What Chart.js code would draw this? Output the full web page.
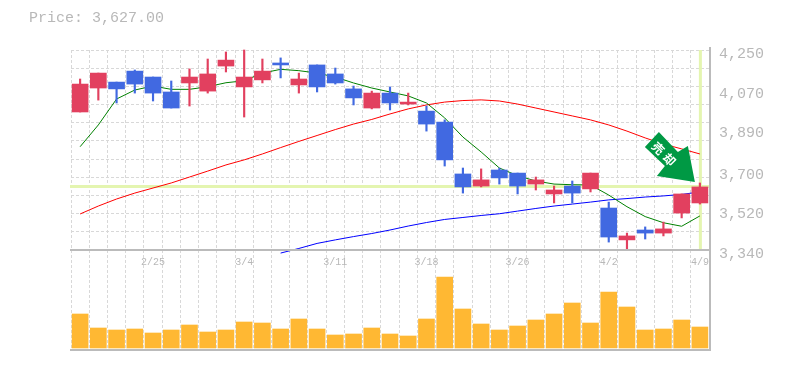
<!DOCTYPE html>
<html>
<head>
<meta charset="utf-8">
<style>
  body { margin: 0; background: #fff; }
  #wrap { position: relative; width: 785px; height: 370px; overflow: hidden; }
  canvas { position: absolute; left: 0; }
  #priceChart { top: 0; z-index: 2; }
  #volumeChart { top: 250px; z-index: 1; }
  #priceLabel { position: absolute; left: 29px; top: 10px; z-index: 3; font: 15px "Liberation Mono", monospace; color: #b8b8b8; white-space: pre; }
</style>
<script src="https://cdn.jsdelivr.net/npm/chart.js@4"></script>
</head>
<body>
<div id="wrap">
  <div id="priceLabel">Price: 3,627.00</div>
  <canvas id="volumeChart" width="785" height="120"></canvas>
  <canvas id="priceChart" width="785" height="280"></canvas>
</div>
<script>
const dates = ['2/19','2/20','2/21','2/22','2/25','2/26','2/27','2/28','3/1','3/4','3/5','3/6','3/7','3/8','3/11','3/12','3/13','3/14','3/15','3/18','3/19','3/20','3/22','3/25','3/26','3/27','3/28','3/29','4/1','4/2','4/3','4/4','4/5','4/8','4/9'];

// prices
const opens  = [3968,4077,4104,4154,4127,4059,4100,4063,4177,4082,4114,4191,4091,4182,4141,4073,3986,4054,4004,3972,3922,3686,3631,3704,3690,3640,3595,3631,3618,3531,3386,3431,3417,3508,3554];
const closes = [4095,4145,4073,4095,4054,3986,4127,4141,4204,4127,4154,4182,4118,4082,4100,4032,4054,4009,4013,3913,3750,3627,3659,3668,3631,3659,3613,3599,3690,3399,3404,3417,3436,3595,3627];
const highs  = [4118,4145,4104,4159,4127,4109,4164,4209,4241,4250,4209,4214,4145,4182,4168,4086,4063,4082,4054,3995,3932,3713,3709,3713,3690,3672,3631,3654,3690,3558,3417,3445,3467,3595,3645];
const lows   = [3968,4022,4009,4054,4018,3986,3995,4054,4150,3945,4100,4123,4054,4059,4095,4000,3982,3977,4000,3881,3722,3599,3627,3640,3595,3613,3554,3554,3604,3376,3340,3390,3404,3486,3549];

const maShort = [3810,3909,4027,4068,4086,4071,4071,4083,4101,4110,4145,4162,4156,4145,4127,4100,4077,4059,4041,4009,3941,3854,3786,3713,3678,3654,3640,3637,3636,3590,3537,3492,3464,3448,3495];
const maMid   = [3504,3540,3572,3599,3622,3645,3672,3699,3727,3750,3777,3806,3834,3861,3888,3913,3934,3959,3982,4000,4013,4020,4023,4018,4004,3986,3968,3950,3932,3909,3881,3850,3822,3800,3777];
const maLong  = [null,null,null,null,null,null,null,null,null,null,null,3326,3347,3370,3386,3401,3415,3431,3449,3465,3479,3488,3497,3505,3517,3529,3540,3549,3558,3568,3574,3581,3586,3593,3604];

const volumes = [340,200,180,190,150,180,230,160,180,260,250,190,290,190,130,140,200,140,120,290,710,390,240,180,220,280,340,450,250,560,410,180,190,280,210];

const priceTicks = [3340,3520,3700,3890,4070,4250];
const gridStepCount = 11;
const lastPrice = 3627;
const arrowText = ['売', '却'];

const priceMin = 3340, priceMax = 4250;
const red = '#e2405f', blue = '#4169e1';
const candleColors = opens.map((o, i) => closes[i] >= o ? red : blue);
const gridColor = '#d8d8d8', axisColor = '#bbb', tickColor = '#b8b8b8';
const tickFont = { family: '"Liberation Mono", monospace', size: 15 };

// pale crosshair on the last price and the green arrow
const markers = {
  id: 'markers',
  beforeDatasetsDraw(chart) {
    const { ctx, chartArea: a, scales } = chart;
    const px = scales.x.getPixelForValue(dates.length - 1);
    const py = Math.round(scales.y.getPixelForValue(lastPrice));
    ctx.save();
    ctx.fillStyle = '#e4f5b0';
    ctx.fillRect(a.left - 1, py - 2, a.right - a.left + 2, 3);
    ctx.fillRect(px - 1, a.top, 3, a.bottom - a.top - 1);
    ctx.restore();
  },
  afterDatasetsDraw(chart) {
    const { ctx, scales } = chart;
    // tip sits just above the last candle
    const tipX = scales.x.getPixelForValue(dates.length - 1) - 5;
    const tipY = scales.y.getPixelForValue(lastPrice) - 5;
    ctx.save();
    ctx.translate(tipX, tipY);
    ctx.fillStyle = '#009944';
    ctx.beginPath();
    [[-36, -50], [-17, -30], [-7, -36], [0, 0], [-38, -6], [-30, -16], [-50, -35]].forEach(([x, y], i) => i ? ctx.lineTo(x, y) : ctx.moveTo(x, y));
    ctx.closePath();
    ctx.fill();
    ctx.translate(-31, -28);
    ctx.rotate(Math.PI / 4);
    ctx.fillStyle = '#fff';
    ctx.font = 'bold 12px "Noto Sans CJK JP", sans-serif';
    ctx.textAlign = 'center';
    ctx.textBaseline = 'middle';
    arrowText.forEach((ch, i) => ctx.fillText(ch, (i - 0.5) * 16, 0));
    ctx.restore();
  }
};

const axisBorder = {
  id: 'axisBorder',
  afterDraw(chart) {
    const { ctx, chartArea: a } = chart;
    ctx.save();
    ctx.strokeStyle = axisColor;
    ctx.lineWidth = 2;
    ctx.beginPath();
    ctx.moveTo(a.left - 1, a.bottom);
    ctx.lineTo(a.right + 2, a.bottom);
    ctx.moveTo(a.right + 1, a.top - 3);
    ctx.lineTo(a.right + 1, a.bottom);
    ctx.stroke();
    ctx.restore();
  }
};

const xGrid = { display: true, offset: true, color: gridColor, lineWidth: 1, drawTicks: false };
const dashed = { dash: [3, 2] };

new Chart(document.getElementById('priceChart'), {
  data: {
    labels: dates,
    datasets: [
      { type: 'line', data: maShort, borderColor: '#008000', borderWidth: 1, pointRadius: 0, order: 4, clip: false, yAxisID: 'y' },
      { type: 'line', data: maMid, borderColor: '#ff0000', borderWidth: 1, pointRadius: 0, order: 4, clip: false, yAxisID: 'y' },
      { type: 'line', data: maLong, borderColor: '#0000ff', borderWidth: 1, pointRadius: 0, order: 4, clip: false, yAxisID: 'y' },
      { type: 'bar', data: opens.map((o, i) => [o, closes[i]]), backgroundColor: candleColors, barThickness: 16, grouped: false, order: 2, yAxisID: 'y' },
      { type: 'bar', data: lows.map((l, i) => [l, highs[i]]), backgroundColor: candleColors, barThickness: 1.5, grouped: false, order: 3, clip: false, yAxisID: 'y' }
    ]
  },
  options: {
    responsive: false,
    animation: false,
    layout: { padding: { left: 71, top: 50, bottom: 0, right: 0 } },
    plugins: { legend: { display: false }, tooltip: { enabled: false } },
    scales: {
      x: {
        grid: { ...xGrid },
        border: { display: false, ...dashed },
        ticks: {
          color: tickColor,
          font: { family: '"Liberation Mono", monospace', size: 10 },
          padding: 6,
          maxRotation: 0,
          autoSkip: false,
          callback(v, i) { return (dates.length - 1 - i) % 5 === 0 ? dates[i] : ''; }
        },
        afterFit(s) { s.height = 30; }
      },
      y: {
        position: 'right',
        min: priceMin,
        max: priceMax,
        grid: { display: false },
        border: { display: false },
        afterBuildTicks(s) { s.ticks = priceTicks.map(value => ({ value })); },
        afterFit(s) { s.width = 76; },
        ticks: {
          color: tickColor,
          font: tickFont,
          padding: 2,
          labelOffset: 4,
          callback: v => v.toLocaleString('en-US')
        }
      },
      yGrid: {
        position: 'left',
        min: priceMin,
        max: priceMax,
        grid: { color: gridColor, lineWidth: 1, drawTicks: false },
        border: { display: false, ...dashed },
        ticks: { display: false },
        afterBuildTicks(s) {
          s.ticks = Array.from({ length: gridStepCount + 1 }, (_, i) => ({ value: priceMin + (priceMax - priceMin) * i / gridStepCount }));
        },
        afterFit(s) { s.width = 0; }
      }
    }
  },
  plugins: [markers, axisBorder]
});

new Chart(document.getElementById('volumeChart'), {
  data: {
    labels: dates,
    datasets: [
      { type: 'bar', data: volumes, backgroundColor: '#ffb833', barThickness: 16, base: 0 }
    ]
  },
  options: {
    responsive: false,
    animation: false,
    layout: { padding: { left: 71, top: 0, bottom: 20, right: 0 } },
    plugins: { legend: { display: false }, tooltip: { enabled: false } },
    scales: {
      x: {
        grid: { ...xGrid },
        border: { display: false, ...dashed },
        ticks: { display: false }
      },
      y: {
        position: 'right',
        min: -20,
        max: 980,
        grid: { display: false },
        border: { display: false },
        ticks: { display: false },
        afterFit(s) { s.width = 76; }
      }
    }
  },
  plugins: [axisBorder]
});
</script>
</body>
</html>
